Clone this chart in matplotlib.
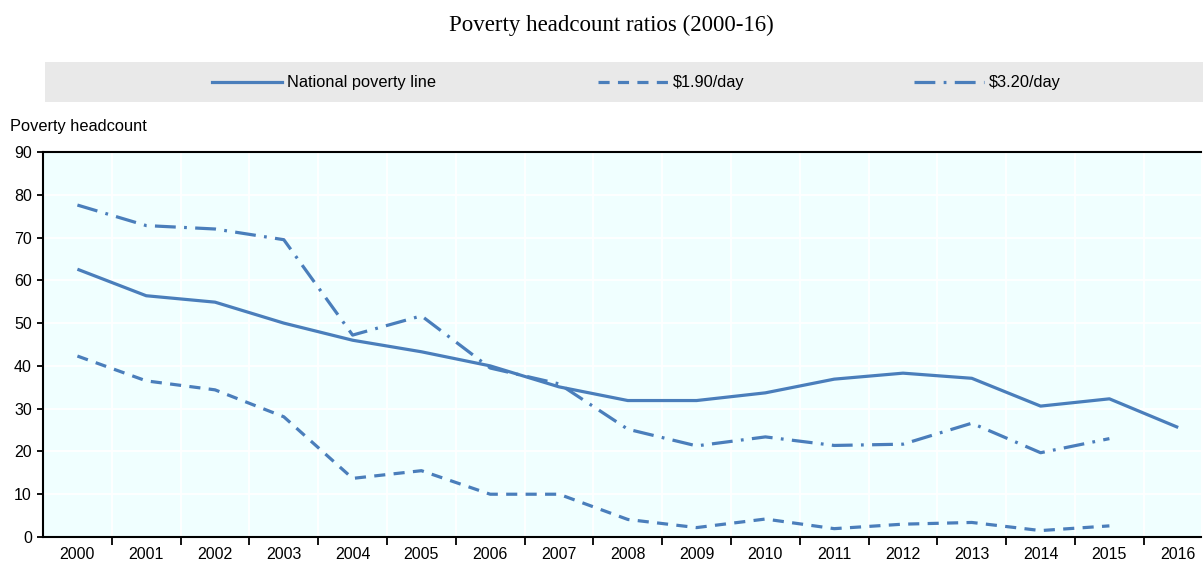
import matplotlib
matplotlib.use("Agg")
import matplotlib.pyplot as plt
from matplotlib.lines import Line2D
import numpy as np

years = ["2000", "2001", "2002", "2003", "2004", "2005", "2006", "2007", "2008",
         "2009", "2010", "2011", "2012", "2013", "2014", "2015", "2016"]
national = [62.6, 56.4, 54.9, 50.0, 46.0, 43.3, 40.0, 35.1, 31.9, 31.9, 33.7,
            36.9, 38.3, 37.1, 30.6, 32.3, 25.6]
usd190 = [42.3, 36.5, 34.4, 28.1, 13.7, 15.5, 10.0, 10.0, 4.1, 2.2, 4.2,
          1.95, 3.0, 3.4, 1.5, 2.6]
usd320 = [77.6, 72.8, 72.0, 69.5, 47.2, 51.7, 39.5, 35.8, 25.2, 21.3, 23.4,
          21.4, 21.7, 26.6, 19.7, 23.0]
series_labels = ["National poverty line", "$1.90/day", "$3.20/day"]
title = "Poverty headcount ratios (2000-16)"
ylabel = "Poverty headcount"
yticks = [0, 10, 20, 30, 40, 50, 60, 70, 80, 90]

plt.rcParams['lines.scale_dashes'] = False
W, H = 1203, 562
fig = plt.figure(figsize=(W / 100, H / 100), dpi=100)

color = "#4A7EBB"
lw = 2.3
dash_dashed = (0, (8, 6))
dash_dot = (0, (15, 6, 2, 6))

# main axes
left, right, bottom, top = 43, 1201, 537, 152
ax = fig.add_axes([left / W, 1 - bottom / H, (right - left) / W, (bottom - top) / H])
ax.set_facecolor("#F0FFFF")
step = 68.8
x = np.arange(len(years))
ax.set_xlim(-0.5, -0.5 + (right - left) / step)
ax.set_ylim(0, 90)

ax.plot(x, national, color=color, lw=lw, solid_capstyle="butt")
ax.plot(x[:len(usd190)], usd190, color=color, lw=lw, linestyle=dash_dashed)
ax.plot(x[:len(usd320)], usd320, color=color, lw=lw, linestyle=dash_dot)

ax.set_xticks(x)
ax.set_xticklabels(years, fontsize=11.5, family="Liberation Sans")
ax.tick_params(axis="x", which="major", length=0, pad=7)
ax.set_xticks(np.arange(0.5, len(years) - 1, 1.0), minor=True)
ax.tick_params(axis="x", which="minor", length=6, width=1.3, direction="out", color="black")
ax.set_yticks(yticks)
ax.set_yticklabels([str(v) for v in yticks], fontsize=11.5, family="Liberation Sans")
ax.tick_params(axis="y", length=4, width=1.3, pad=4)

ax.grid(True, which="minor", axis="x", color="white", lw=1.3)
ax.grid(True, which="major", axis="y", color="white", lw=1.3)
ax.set_axisbelow(True)

for s in ["left", "bottom", "top"]:
    ax.spines[s].set_linewidth(1.5)
    ax.spines[s].set_color("black")
ax.spines["right"].set_visible(False)

fig.text(10 / W, 1 - 127 / H, ylabel, fontsize=11.8, family="Liberation Sans",
         va="center", ha="left")
fig.text(611 / W, 1 - 25 / H, title, fontsize=16.5, family="Liberation Serif",
         va="center", ha="center")

# legend band
lax = fig.add_axes([45 / W, 1 - 102 / H, (W - 45) / W, 40 / H])
lax.set_facecolor("#E9E9E9")
lax.set_xlim(45, W)
lax.set_ylim(0, 1)
lax.set_xticks([])
lax.set_yticks([])
for s in lax.spines.values():
    s.set_visible(False)
styles = ["-", dash_dashed, dash_dot]
starts = [212, 598, 914]
for lab, st, x0 in zip(series_labels, styles, starts):
    lax.add_line(Line2D([x0, x0 + 70], [0.5, 0.5], color=color, lw=lw, linestyle=st))
    lax.text(x0 + 75, 0.5, lab, fontsize=11.8, family="Liberation Sans",
             va="center", ha="left")

fig.savefig("out.png", dpi=100)
